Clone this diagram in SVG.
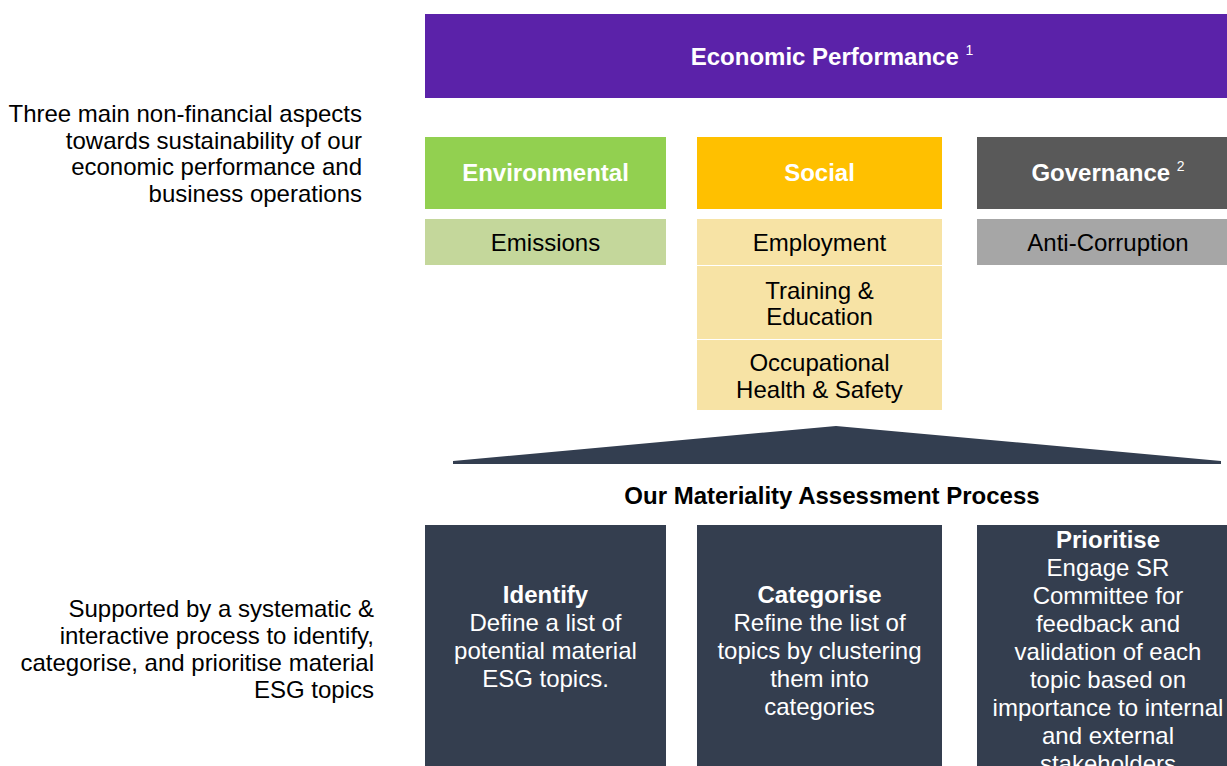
<svg xmlns="http://www.w3.org/2000/svg" width="1227" height="766" viewBox="0 0 1227 766">
  <style>
    text { font-family: "Liberation Sans", Arial, sans-serif; }
    .hdr { font-size: 24px; font-weight: bold; fill: #FFFFFF; text-anchor: middle; }
    .sup { font-size: 14px; font-weight: normal; }
    .item { font-size: 24px; fill: #000000; text-anchor: middle; }
    .note { font-size: 24px; fill: #000000; text-anchor: end; }
    .step { font-size: 24px; fill: #FFFFFF; text-anchor: middle; }
    .stepT { font-weight: bold; }
    .title { font-size: 24px; font-weight: bold; fill: #000000; text-anchor: middle; }
  </style>

  <rect width="1227" height="766" fill="#FFFFFF"/>

  <!-- side notes -->
  <g id="note-aspects">
    <text class="note" x="362" y="122">Three main non-financial aspects</text>
    <text class="note" x="362" y="149">towards sustainability of our</text>
    <text class="note" x="362" y="175">economic performance and</text>
    <text class="note" x="362" y="202">business operations</text>
  </g>
  <g id="note-process">
    <text class="note" x="374" y="617">Supported by a systematic &amp;</text>
    <text class="note" x="374" y="644">interactive process to identify,</text>
    <text class="note" x="374" y="671">categorise, and prioritise material</text>
    <text class="note" x="374" y="698">ESG topics</text>
  </g>

  <!-- top bar -->
  <g id="economic">
    <rect x="425" y="14" width="802" height="84" fill="#5B22A9"/>
    <text class="hdr" x="832" y="65">Economic Performance <tspan class="sup" dy="-10">1</tspan></text>
  </g>

  <!-- pillars -->
  <g id="environmental">
    <rect x="425" y="137" width="241" height="72" fill="#92D050"/>
    <text class="hdr" x="545.5" y="181">Environmental</text>
  </g>
  <g id="social">
    <rect x="697" y="137" width="245" height="72" fill="#FFC000"/>
    <text class="hdr" x="819.5" y="181">Social</text>
  </g>
  <g id="governance">
    <rect x="977" y="137" width="250" height="72" fill="#595959"/>
    <text class="hdr" x="1108" y="181">Governance <tspan class="sup" dy="-10">2</tspan></text>
  </g>

  <!-- topics -->
  <g id="emissions">
    <rect x="425" y="219" width="241" height="46" fill="#C4D79B"/>
    <text class="item" x="545.5" y="251">Emissions</text>
  </g>
  <g id="employment">
    <rect x="697" y="219" width="245" height="46" fill="#F7E3A5"/>
    <text class="item" x="819.5" y="251">Employment</text>
  </g>
  <g id="training">
    <rect x="697" y="266" width="245" height="73" fill="#F7E3A5"/>
    <text class="item" x="819.5" y="299">Training &amp;</text>
    <text class="item" x="819.5" y="325">Education</text>
  </g>
  <g id="ohs">
    <rect x="697" y="340" width="245" height="70" fill="#F7E3A5"/>
    <text class="item" x="819.5" y="371">Occupational</text>
    <text class="item" x="819.5" y="398">Health &amp; Safety</text>
  </g>
  <g id="anti-corruption">
    <rect x="977" y="219" width="250" height="46" fill="#A6A6A6"/>
    <text class="item" x="1108" y="251">Anti-Corruption</text>
  </g>

  <!-- support shape beneath the pillars -->
  <g id="connectors">
    <polygon points="836,426 1221,461 1221,464 453,464 453,461" fill="#333E50"/>
  </g>

  <!-- process -->
  <g id="process-title">
    <text class="title" x="832" y="504">Our Materiality Assessment Process</text>
  </g>
  <g id="identify">
    <rect x="425" y="525" width="241" height="241" fill="#343E4F"/>
    <text class="step stepT" x="545.5" y="603">Identify</text>
    <text class="step" x="545.5" y="631">Define a list of</text>
    <text class="step" x="545.5" y="659">potential material</text>
    <text class="step" x="545.5" y="687">ESG topics.</text>
  </g>
  <g id="categorise">
    <rect x="697" y="525" width="245" height="241" fill="#343E4F"/>
    <text class="step stepT" x="819.5" y="603">Categorise</text>
    <text class="step" x="819.5" y="631">Refine the list of</text>
    <text class="step" x="819.5" y="659">topics by clustering</text>
    <text class="step" x="819.5" y="687">them into</text>
    <text class="step" x="819.5" y="715">categories</text>
  </g>
  <g id="prioritise">
    <rect x="977" y="525" width="250" height="241" fill="#343E4F"/>
    <text class="step stepT" x="1108" y="548">Prioritise</text>
    <text class="step" x="1108" y="576">Engage SR</text>
    <text class="step" x="1108" y="604">Committee for</text>
    <text class="step" x="1108" y="632">feedback and</text>
    <text class="step" x="1108" y="660">validation of each</text>
    <text class="step" x="1108" y="688">topic based on</text>
    <text class="step" x="1108" y="716">importance to internal</text>
    <text class="step" x="1108" y="744">and external</text>
    <text class="step" x="1108" y="772">stakeholders</text>
  </g>
</svg>
